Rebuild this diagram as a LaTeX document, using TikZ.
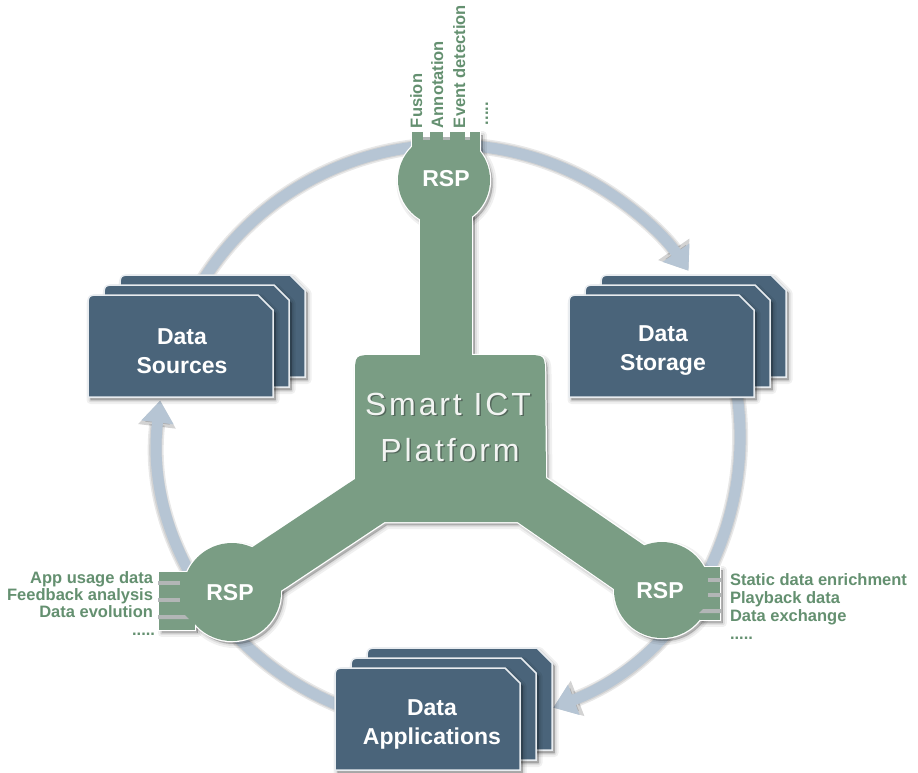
\documentclass[tikz,border=0pt]{standalone}
\usepackage{fontspec}
\setmainfont{Liberation Sans}
\newfontfamily\platformfont[LetterSpace=9]{Liberation Sans}
\usetikzlibrary{arrows.meta}

\definecolor{platgreen}{RGB}{122,157,132}
\definecolor{labelgreen}{RGB}{100,144,112}
\definecolor{cardslate}{RGB}{74,100,122}
\definecolor{cardedge}{RGB}{232,236,240}
\definecolor{ringblue}{RGB}{182,197,212}
\definecolor{slotgray}{RGB}{178,182,182}
\definecolor{embossdark}{RGB}{84,104,92}
\definecolor{embosslight}{RGB}{242,244,242}

\tikzset{
  every node/.style={inner sep=0pt, outer sep=0pt},
  softshadow/.style={fill=black, draw=black, opacity=#1, line join=round, shift={(2.5,3)}},
  ringglow/.style={draw=black, opacity=.09, line width=#1, -{Triangle[width=36pt,length=26pt]}},
  ringarc/.style={draw=ringblue, line width=11pt, -{Triangle[width=31pt,length=22pt]}},
  rsptext/.style={text=white, font=\fontsize{23}{27}\selectfont\bfseries},
  boxtext/.style={text=white, font=\fontsize{23}{29}\selectfont\bfseries, align=center},
  tasklabel/.style={text=labelgreen, font=\fontsize{16.5}{18}\selectfont\bfseries},
  platformtext/.style={font=\platformfont\fontsize{32}{38}\selectfont, anchor=base},
}

% green platform: central block with arms, stem, RSP discs and connector blocks
\newcommand\greenparts[1]{%
  \path[#1] (355,479) -- (355,375) .. controls (355,355) .. (375,355) -- (525,355)
     .. controls (545,355) .. (545,375) -- (546,478) -- (677,568) -- (647,612)
     -- (517.6,522) -- (384.5,522) -- (246.4,613.7) -- (217.6,570.3) -- cycle;
  \path[#1] (420,170) rectangle (472,362);
  \path[#1] (444,180) circle[radius=46];
  \path[#1] (232,592) circle[radius=49];
  \path[#1] (662,590) circle[radius=48];
  \path[#1] (412,132) rectangle (480,160);
  \path[#1] (159,572) rectangle (195,630);
  \path[#1] (700,567) rectangle (720,620);
}

% a single data card, top-left corner at the current origin
\newcommand\cardpath[1]{%
  \path[#1] (0,102) -- (0,13) .. controls (0,0) .. (13,0) -- (170,0) -- (185,15) -- (185,102) -- cycle;}
\newcommand\cardlayer[2]{%
  \begin{scope}[shift={(#1,#2)}]
    \cardpath{softshadow=.06, line width=8pt}
    \cardpath{softshadow=.08, line width=4pt}
    \cardpath{softshadow=.10, line width=1pt}
    \cardpath{fill=cardslate, draw=cardedge, line width=1.5pt}
  \end{scope}}
\newcommand\cardstack[2]{%
  \cardlayer{#1+32}{#2-20}\cardlayer{#1+16}{#2-10}\cardlayer{#1}{#2}}

\begin{document}
\begin{tikzpicture}[x=1pt, y=-1pt]
  \useasboundingbox (0,0) rectangle (918,772);
  \fill[white] (0,0) rectangle (918,772);

  % the cycle ring, split into three arrowed arcs
  \coordinate (hub) at (449,436);
  \foreach \a/\b in {-150/-34.6, -12/69, 108/187} {
    \draw[ringglow=16pt] (hub) ++(\a:291) arc[start angle=\a, end angle=\b, radius=291];
    \draw[ringglow=13pt] (hub) ++(\a:291) arc[start angle=\a, end angle=\b, radius=291];
    \draw[ringarc] (hub) ++(\a:291) arc[start angle=\a, end angle=\b, radius=291];
  }

  % green platform with soft shadow and light rim
  \greenparts{softshadow=.06, line width=8pt}
  \greenparts{softshadow=.07, line width=4pt}
  \greenparts{softshadow=.08, line width=1pt}
  \greenparts{draw=white, line width=2.5pt}
  \greenparts{fill=platgreen}

  % notches of the connector blocks
  \fill[white] (423,131) rectangle (430,139);
  \fill[white] (443,131) rectangle (450,139);
  \fill[white] (465,131) rectangle (470,139);
  \fill[slotgray] (423,137) rectangle (430,140);
  \fill[slotgray] (443,137) rectangle (450,140);
  \fill[slotgray] (465,137) rectangle (470,140);
  \fill[slotgray] (158,581) rectangle (180,585);
  \fill[slotgray] (158,598) rectangle (180,602);
  \fill[slotgray] (158,615) -- (185,615) -- (189,619) -- (158,619) -- cycle;
  \fill[slotgray] (708,578) rectangle (721,582);
  \fill[slotgray] (708,593) rectangle (721,597);
  \fill[slotgray] (703,609) -- (721,609) -- (721,613) -- (699,613) -- cycle;

  % data cards
  \cardstack{88}{295}
  \cardstack{569}{295}
  \cardstack{335}{668}

  \node[boxtext] (sources) at (182,351) {Data\\Sources};
  \node[boxtext] (storage) at (663,351) {Data\\Storage};
  \node[boxtext] (applications) at (432,724) {Data\\Applications};

  % platform title, embossed
  \node[platformtext, text=embossdark] (smartshade) at (449.5,416.5) {Smart ICT};
  \node[platformtext, text=embossdark] (platshade) at (451.5,462.5) {Platform};
  \node[platformtext, text=embosslight] (smart) at (448,415) {Smart ICT};
  \node[platformtext, text=embosslight] (plat) at (450,461) {Platform};

  % RSP labels
  \node[rsptext] (rsptop) at (446,179) {RSP};
  \node[rsptext] (rspleft) at (230,593) {RSP};
  \node[rsptext] (rspright) at (660,591) {RSP};

  % tasks of the top RSP
  \node[tasklabel, rotate=90, anchor=base west] (fusion) at (422,128) {Fusion};
  \node[tasklabel, rotate=90, anchor=base west] (annotation) at (443,128) {Annotation};
  \node[tasklabel, rotate=90, anchor=base west] (event) at (465,128) {Event detection};
  \node[tasklabel, rotate=90, anchor=base west] (topmore) at (488,125) {.....};

  % tasks of the left RSP
  \node[tasklabel, anchor=base east] (appusage) at (153,583) {App usage data};
  \node[tasklabel, anchor=base east] (feedback) at (153,600) {Feedback analysis};
  \node[tasklabel, anchor=base east] (evolution) at (153,617) {Data evolution};
  \node[tasklabel, anchor=base east] (leftmore) at (155,635) {.....};

  % tasks of the right RSP
  \node[tasklabel, anchor=base west] (enrich) at (730,585) {Static data enrichment};
  \node[tasklabel, anchor=base west] (playback) at (730,603) {Playback data};
  \node[tasklabel, anchor=base west] (exchange) at (730,621) {Data exchange};
  \node[tasklabel, anchor=base west] (rightmore) at (730,639) {.....};
\end{tikzpicture}
\end{document}
